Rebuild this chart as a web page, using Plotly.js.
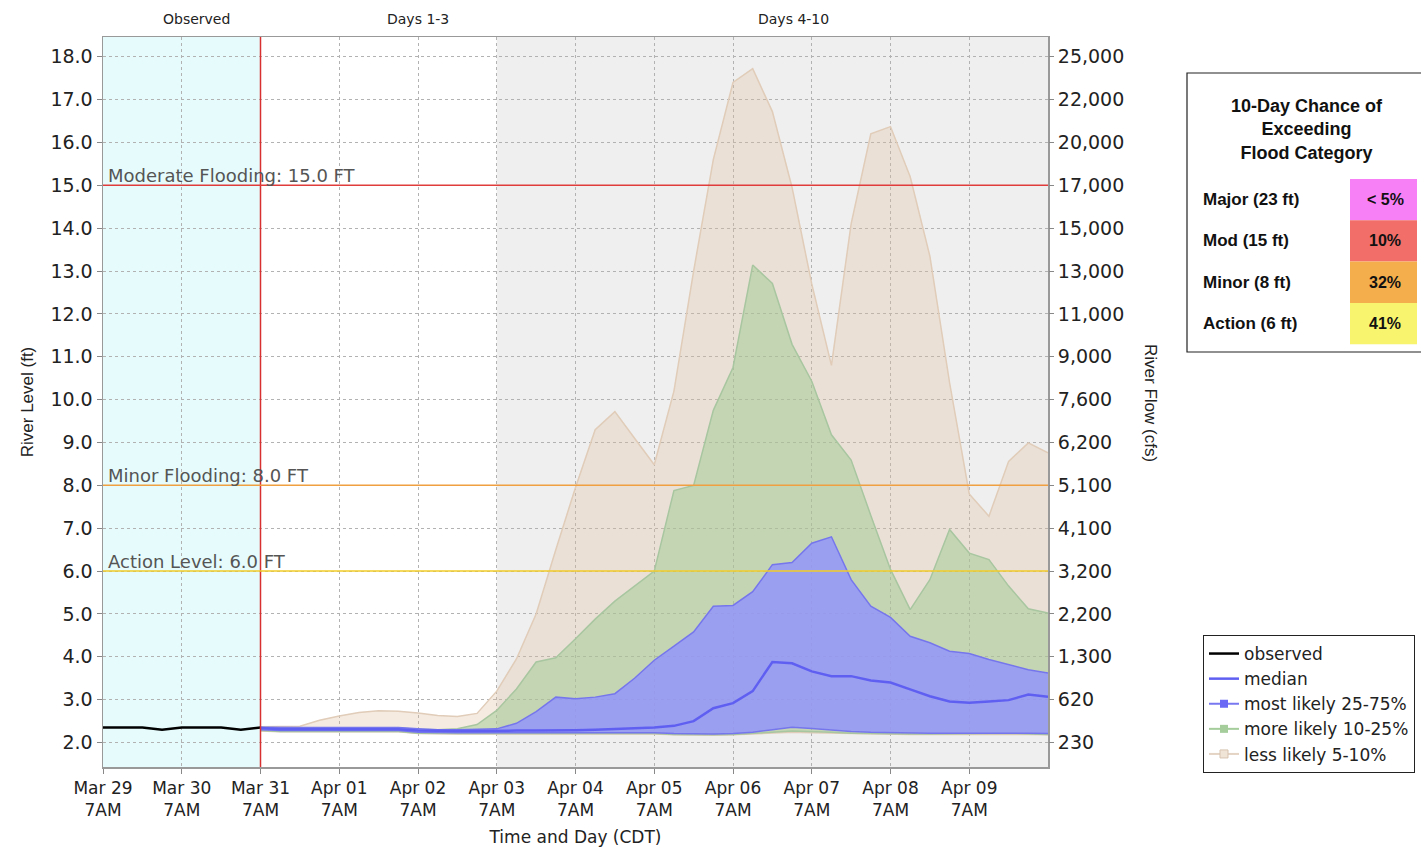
<!DOCTYPE html>
<html>
<head>
<meta charset="utf-8">
<script src="https://cdn.plot.ly/plotly-3.0.1.min.js"></script>
<style>
  html, body { margin: 0; padding: 0; background: #ffffff; }
  #chart { width: 1421px; height: 849px; }
</style>
</head>
<body>
<div id="chart"></div>
<script>
// ---------------- DATA ----------------
const observedTimes = ['2019-03-29 07:00','2019-03-29 13:00','2019-03-29 19:00','2019-03-30 01:00','2019-03-30 07:00','2019-03-30 13:00','2019-03-30 19:00','2019-03-31 01:00','2019-03-31 07:00'];
const observedStage = [2.35, 2.35, 2.35, 2.30, 2.35, 2.35, 2.35, 2.30, 2.35];

const forecastTimes = [
  '2019-03-31 07:00','2019-03-31 13:00','2019-03-31 19:00',
  '2019-04-01 01:00','2019-04-01 07:00','2019-04-01 13:00','2019-04-01 19:00',
  '2019-04-02 01:00','2019-04-02 07:00','2019-04-02 13:00','2019-04-02 19:00',
  '2019-04-03 01:00','2019-04-03 07:00','2019-04-03 13:00','2019-04-03 19:00',
  '2019-04-04 01:00','2019-04-04 07:00','2019-04-04 13:00','2019-04-04 19:00',
  '2019-04-05 01:00','2019-04-05 07:00','2019-04-05 13:00','2019-04-05 19:00',
  '2019-04-06 01:00','2019-04-06 07:00','2019-04-06 13:00','2019-04-06 19:00',
  '2019-04-07 01:00','2019-04-07 07:00','2019-04-07 13:00','2019-04-07 19:00',
  '2019-04-08 01:00','2019-04-08 07:00','2019-04-08 13:00','2019-04-08 19:00',
  '2019-04-09 01:00','2019-04-09 07:00','2019-04-09 13:00','2019-04-09 19:00',
  '2019-04-10 01:00','2019-04-10 07:00'
];
// less likely band (5% .. 95%)
const lessLikelyLow  = [2.27,2.25,2.25,2.25,2.25,2.25,2.25,2.25,2.21,2.20,2.20,2.20,2.20,2.20,2.20,2.20,2.20,2.20,2.20,2.20,2.20,2.18,2.17,2.17,2.18,2.20,2.22,2.24,2.23,2.22,2.21,2.20,2.19,2.19,2.19,2.19,2.19,2.20,2.20,2.19,2.18];
const lessLikelyHigh = [2.37,2.37,2.38,2.52,2.62,2.70,2.74,2.73,2.69,2.63,2.61,2.68,3.20,3.95,5.00,6.50,7.95,9.30,9.72,9.10,8.48,10.20,13.00,15.60,17.40,17.72,16.72,14.95,12.70,10.80,14.10,16.20,16.37,15.20,13.35,10.40,7.80,7.28,8.56,8.99,8.76];
// more likely band (10% .. 90%)
const moreLikelyLow  = [2.28,2.26,2.26,2.26,2.26,2.26,2.26,2.26,2.22,2.21,2.21,2.21,2.21,2.21,2.21,2.21,2.21,2.21,2.21,2.21,2.21,2.19,2.18,2.18,2.19,2.21,2.24,2.27,2.26,2.24,2.22,2.21,2.20,2.20,2.20,2.20,2.20,2.21,2.22,2.20,2.19];
const moreLikelyHigh = [2.35,2.34,2.34,2.34,2.34,2.34,2.34,2.34,2.31,2.30,2.32,2.42,2.75,3.25,3.88,3.98,4.42,4.88,5.30,5.65,6.00,7.88,8.00,9.75,10.75,13.14,12.71,11.29,10.43,9.18,8.59,7.30,6.04,5.10,5.80,6.97,6.42,6.27,5.65,5.12,5.02];
// most likely band (25% .. 75%)
const mostLikelyLow  = [2.30,2.28,2.28,2.28,2.28,2.28,2.28,2.28,2.24,2.23,2.23,2.23,2.23,2.23,2.23,2.23,2.23,2.23,2.23,2.23,2.23,2.21,2.20,2.20,2.21,2.24,2.30,2.36,2.33,2.29,2.26,2.24,2.23,2.22,2.22,2.22,2.22,2.22,2.23,2.22,2.21];
const mostLikelyHigh = [2.36,2.35,2.35,2.35,2.35,2.35,2.35,2.35,2.32,2.30,2.30,2.31,2.32,2.45,2.72,3.06,3.02,3.06,3.14,3.50,3.92,4.25,4.58,5.18,5.20,5.52,6.15,6.20,6.65,6.80,5.80,5.18,4.92,4.48,4.33,4.13,4.08,3.94,3.82,3.70,3.62];
const medianStage    = [2.34,2.31,2.31,2.31,2.31,2.31,2.31,2.31,2.28,2.27,2.27,2.27,2.28,2.28,2.28,2.28,2.29,2.30,2.32,2.34,2.35,2.39,2.50,2.80,2.92,3.20,3.88,3.85,3.66,3.55,3.55,3.45,3.40,3.24,3.08,2.96,2.93,2.96,2.99,3.12,3.07];

const dayTicks = ['2019-03-29 07:00','2019-03-30 07:00','2019-03-31 07:00','2019-04-01 07:00','2019-04-02 07:00','2019-04-03 07:00','2019-04-04 07:00','2019-04-05 07:00','2019-04-06 07:00','2019-04-07 07:00','2019-04-08 07:00','2019-04-09 07:00'];
const dayLabels = ['Mar 29<br>7AM','Mar 30<br>7AM','Mar 31<br>7AM','Apr 01<br>7AM','Apr 02<br>7AM','Apr 03<br>7AM','Apr 04<br>7AM','Apr 05<br>7AM','Apr 06<br>7AM','Apr 07<br>7AM','Apr 08<br>7AM','Apr 09<br>7AM'];

const stageTicks = [2,3,4,5,6,7,8,9,10,11,12,13,14,15,16,17,18];
const flowLabels = ['230','620','1,300','2,200','3,200','4,100','5,100','6,200','7,600','9,000','11,000','13,000','15,000','17,000','20,000','22,000','25,000'];

const floodNames  = ['Moderate Flooding', 'Minor Flooding', 'Action Level'];
const floodLevels = [15.0, 8.0, 6.0];

const periodNames  = ['Observed', 'Days 1-3', 'Days 4-10'];
const periodStarts = ['2019-03-29 07:00', '2019-03-31 07:00', '2019-04-03 07:00'];

const categoryNames  = ['Major (23 ft)', 'Mod (15 ft)', 'Minor (8 ft)', 'Action (6 ft)'];
const categoryChance = ['< 5%', '10%', '32%', '41%'];

// ---------------- STYLE ----------------
const xStart = '2019-03-29 07:00', xEnd = '2019-04-10 07:00';
const yRange = [1.43, 18.46];
const floodColors = ['#e03c3c', '#f0a040', '#f2cc2a'];
const catColors = ['#f880f6', '#f26e68', '#f5ae4c', '#f8f46e'];
const periodLabelX = [196, 418, 793];

const W = 1421, H = 849, ML = 103, MR = 373, MT = 37, MB = 82;
const PW = W - ML - MR, PH = H - MT - MB;
const px = v => (v - ML) / PW;
const py = v => (H - MB - v) / PH;

const tanLine = 'rgb(224,204,184)', tanFill = 'rgba(222,190,155,0.30)';
const greenLine = 'rgb(168,198,160)', greenFill = 'rgba(150,200,140,0.45)';
const blueLine = 'rgb(118,118,236)', blueFill = 'rgba(145,145,255,0.80)';
const medianColor = 'rgb(95,95,242)';

function band(lo, hi, lineColor, fillColor) {
  return [
    {x: forecastTimes, y: lo, type: 'scatter', mode: 'lines', line: {color: lineColor, width: 1.5}, showlegend: false, hoverinfo: 'skip'},
    {x: forecastTimes, y: hi, type: 'scatter', mode: 'lines', fill: 'tonexty', fillcolor: fillColor, line: {color: lineColor, width: 1.5}, showlegend: false, hoverinfo: 'skip'}
  ];
}

const traces = [].concat(
  band(lessLikelyLow, lessLikelyHigh, tanLine, tanFill),
  band(moreLikelyLow, moreLikelyHigh, greenLine, greenFill),
  band(mostLikelyLow, mostLikelyHigh, blueLine, blueFill),
  [
    {x: forecastTimes, y: medianStage, type: 'scatter', mode: 'lines', name: 'median', line: {color: medianColor, width: 2.5}, legendrank: 2},
    {x: observedTimes, y: observedStage, type: 'scatter', mode: 'lines', name: 'observed', line: {color: '#000000', width: 2.5}, legendrank: 1},
    {x: [null], y: [null], type: 'scatter', mode: 'lines+markers', name: 'most likely 25-75%', line: {color: 'rgb(120,120,240)', width: 2}, marker: {symbol: 'square', size: 8, color: 'rgb(105,105,245)'}, legendrank: 3},
    {x: [null], y: [null], type: 'scatter', mode: 'lines+markers', name: 'more likely 10-25%', line: {color: 'rgb(165,205,155)', width: 2}, marker: {symbol: 'square', size: 8, color: 'rgb(165,205,155)'}, legendrank: 4},
    {x: [null], y: [null], type: 'scatter', mode: 'lines+markers', name: 'less likely 5-10%', line: {color: 'rgb(228,212,196)', width: 2}, marker: {symbol: 'square', size: 8, color: 'rgb(240,228,214)', line: {color: 'rgb(215,195,175)', width: 1}}, legendrank: 5},
    {x: [xStart], y: [null], yaxis: 'y2', type: 'scatter', mode: 'lines', showlegend: false, hoverinfo: 'skip'}
  ]
);

const shapes = [
  {type: 'rect', xref: 'x', yref: 'y', x0: periodStarts[0], x1: periodStarts[1], y0: yRange[0], y1: yRange[1], fillcolor: '#e6fcfc', line: {width: 0}, layer: 'below'},
  {type: 'rect', xref: 'x', yref: 'y', x0: periodStarts[2], x1: xEnd, y0: yRange[0], y1: yRange[1], fillcolor: '#efefef', line: {width: 0}, layer: 'below'},
  {type: 'line', xref: 'x', yref: 'paper', x0: periodStarts[1], x1: periodStarts[1], y0: 0, y1: 1, line: {color: '#d83030', width: 1.5}}
];
floodLevels.forEach((lv, i) => {
  shapes.push({type: 'line', xref: 'paper', yref: 'y', x0: 0, x1: 1, y0: lv, y1: lv, line: {color: floodColors[i], width: 1.5}});
});

const annotations = [];
floodLevels.forEach((lv, i) => {
  annotations.push({xref: 'paper', yref: 'y', x: 0.003, y: lv, xanchor: 'left', yanchor: 'bottom', yshift: -3,
    text: floodNames[i] + ': ' + lv.toFixed(1) + ' FT', showarrow: false,
    font: {family: 'DejaVu Sans', size: 18, color: '#555555'}});
});
periodNames.forEach((n, i) => {
  annotations.push({xref: 'paper', yref: 'paper', x: px(periodLabelX[i]), y: py(19), xanchor: 'center', yanchor: 'middle',
    text: n, showarrow: false, font: {family: 'DejaVu Sans', size: 14, color: '#222222'}});
});
// right axis title
annotations.push({xref: 'paper', yref: 'paper', x: px(1151), y: py(403), xanchor: 'center', yanchor: 'middle', textangle: 90, text: 'River Flow (cfs)', showarrow: false,
  font: {family: 'Liberation Sans', size: 17, color: '#222222'}});

// exceedance table
shapes.push({type: 'rect', xref: 'paper', yref: 'paper', x0: px(1187), x1: px(1445), y0: py(352), y1: py(73), fillcolor: '#ffffff', line: {color: '#222222', width: 1.2}, layer: 'above'});
annotations.push({xref: 'paper', yref: 'paper', x: px(1307), y: py(129), xanchor: 'center', yanchor: 'middle',
  text: '<b>10-Day Chance of<br>Exceeding<br>Flood Category</b>', showarrow: false,
  font: {family: 'Liberation Sans', size: 18, color: '#111111'}});
const rowTop = 179, rowH = 41.3;
categoryNames.forEach((n, i) => {
  const t = rowTop + i * rowH, b = t + rowH, c = (t + b) / 2;
  shapes.push({type: 'rect', xref: 'paper', yref: 'paper', x0: px(1350), x1: px(1417), y0: py(b), y1: py(t), fillcolor: catColors[i], line: {width: 0}, layer: 'above'});
  annotations.push({xref: 'paper', yref: 'paper', x: px(1201), y: py(c), xanchor: 'left', yanchor: 'middle',
    text: '<b>' + n + '</b>', showarrow: false, font: {family: 'Liberation Sans', size: 17, color: '#111111'}});
  annotations.push({xref: 'paper', yref: 'paper', x: px(1385), y: py(c), xanchor: 'center', yanchor: 'middle',
    text: '<b>' + categoryChance[i].replace('<', '&lt;') + '</b>', showarrow: false, font: {family: 'Liberation Sans', size: 16, color: '#111111'}});
});

const gridStyle = {gridcolor: '#b2b2b2', griddash: '3px,3px', gridwidth: 1};

const layout = {
  width: W, height: H,
  margin: {l: ML, r: MR, t: MT, b: MB, autoexpand: false},
  paper_bgcolor: '#ffffff', plot_bgcolor: '#ffffff',
  showlegend: true,
  legend: {x: px(1203), y: py(635), xanchor: 'left', yanchor: 'top', bgcolor: '#ffffff', bordercolor: '#222222', borderwidth: 1,
    font: {family: 'DejaVu Sans', size: 17, color: '#222222'}, itemwidth: 30, traceorder: 'normal', tracegroupgap: 0},
  xaxis: Object.assign({
    type: 'date', range: [xStart, xEnd], tickvals: dayTicks, ticktext: dayLabels,
    tickfont: {family: 'DejaVu Sans', size: 17, color: '#222222'},
    ticks: 'outside', ticklen: 5, tickcolor: '#888888',
    showline: true, linecolor: '#999999', linewidth: 1.5, mirror: true, zeroline: false, automargin: false,
    title: {text: 'Time and Day (CDT)', font: {family: 'DejaVu Sans', size: 17, color: '#222222'}, standoff: 12}
  }, gridStyle),
  yaxis: Object.assign({
    range: yRange, tickvals: stageTicks, tickformat: '.1f',
    tickfont: {family: 'DejaVu Sans', size: 19, color: '#222222'},
    ticks: 'outside', ticklen: 5, tickcolor: '#888888',
    showline: true, linecolor: '#999999', linewidth: 1.5, mirror: true, zeroline: false, automargin: false,
    title: {text: 'River Level (ft)', font: {family: 'Liberation Sans', size: 17, color: '#222222'}, standoff: 12}
  }, gridStyle),
  yaxis2: {
    overlaying: 'y', side: 'right', range: yRange, tickvals: stageTicks, ticktext: flowLabels,
    tickfont: {family: 'DejaVu Sans', size: 19, color: '#222222'},
    ticks: 'outside', ticklen: 5, tickcolor: '#888888', showgrid: false, zeroline: false, showline: false, automargin: false
  },
  shapes: shapes,
  annotations: annotations
};

Plotly.newPlot('chart', traces, layout, {displayModeBar: false, staticPlot: true});
</script>
</body>
</html>
